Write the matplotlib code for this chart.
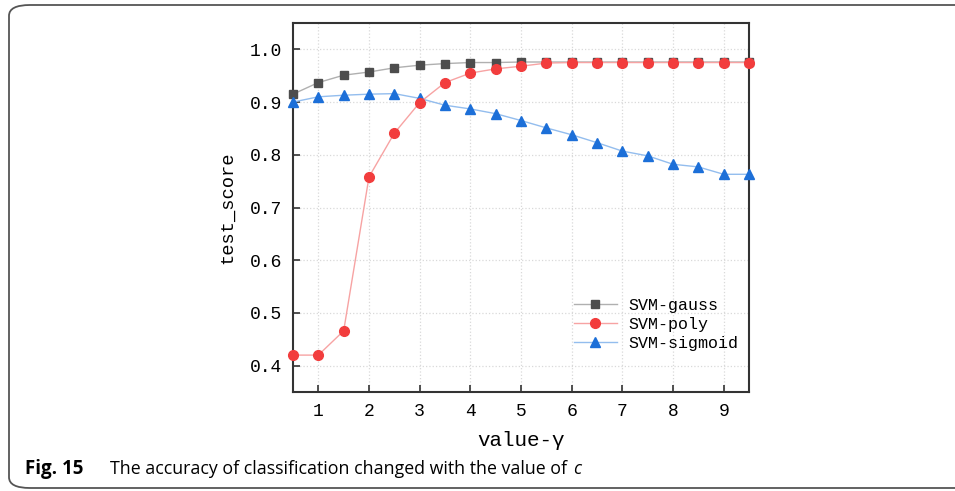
import numpy as np
import matplotlib
matplotlib.use("Agg")
import matplotlib.pyplot as plt
from matplotlib.patches import FancyBboxPatch

# ---- data ----
gamma = [0.5, 1.0, 1.5, 2.0, 2.5, 3.0, 3.5, 4.0, 4.5, 5.0,
         5.5, 6.0, 6.5, 7.0, 7.5, 8.0, 8.5, 9.0, 9.5]
svm_gauss = [0.915, 0.937, 0.951, 0.957, 0.965, 0.970, 0.973, 0.975, 0.975, 0.976,
             0.976, 0.976, 0.976, 0.976, 0.976, 0.976, 0.976, 0.976, 0.976]
svm_poly = [0.420, 0.420, 0.466, 0.758, 0.841, 0.899, 0.937, 0.955, 0.963, 0.968,
            0.974, 0.975, 0.975, 0.975, 0.975, 0.975, 0.975, 0.975, 0.975]
svm_sigmoid = [0.900, 0.910, 0.913, 0.915, 0.916, 0.907, 0.894, 0.887, 0.878, 0.865,
               0.851, 0.838, 0.823, 0.807, 0.798, 0.782, 0.777, 0.763, 0.763]

xticks = [1, 2, 3, 4, 5, 6, 7, 8, 9]
yticks = [0.4, 0.5, 0.6, 0.7, 0.8, 0.9, 1.0]

mono = "Liberation Mono"

fig = plt.figure(figsize=(9.55, 4.91), dpi=100)

# rounded frame around the figure panel (open to the right)
frame = FancyBboxPatch((9 / 955, 3 / 491), 1.2, 483 / 491,
                       boxstyle="round,pad=0,rounding_size=0.022",
                       transform=fig.transFigure, fill=False,
                       edgecolor="#555555", linewidth=1.3, clip_on=False)
fig.patches.append(frame)

ax = fig.add_axes([293 / 955, 1 - 392 / 491, 456 / 955, 369 / 491])

ax.plot(gamma, svm_gauss, color="#b0b0b0", lw=1.0, marker="s", ms=6,
        mfc="#4d4d4d", mec="#4d4d4d", label="SVM-gauss", zorder=3, clip_on=False)
ax.plot(gamma, svm_poly, color="#f7a3a3", lw=1.0, marker="o", ms=7,
        mfc="#f23d3d", mec="#f23d3d", label="SVM-poly", zorder=4, clip_on=False)
ax.plot(gamma, svm_sigmoid, color="#93bdee", lw=1.0, marker="^", ms=7.5,
        mfc="#1c6fd8", mec="#1c6fd8", label="SVM-sigmoid", zorder=3, clip_on=False)

ax.set_xlim(0.5, 9.5)
ax.set_ylim(0.35, 1.05)
ax.set_xticks(xticks)
ax.set_yticks(yticks)
ax.set_xticklabels([str(t) for t in xticks], family=mono, fontsize=13)
ax.set_yticklabels([f"{t:.1f}" for t in yticks], family=mono, fontsize=13)
ax.tick_params(direction="in", length=5, width=1.2, color="#333333", pad=8)

ax.grid(True, color="#d9d9d9", linestyle=":", linewidth=0.9)
ax.set_axisbelow(True)
for s in ax.spines.values():
    s.set_color("#333333")
    s.set_linewidth(1.5)

ax.set_xlabel("value-\u03b3", family=[mono, "DejaVu Serif"], fontsize=15, labelpad=8)
ax.set_ylabel("test_score", family=mono, fontsize=13.5, labelpad=10)

leg = ax.legend(loc="lower right", bbox_to_anchor=(1.01, 0.07), frameon=False,
                prop={"family": mono, "size": 12}, handlelength=2.6,
                labelspacing=0.25, handletextpad=0.7)

# caption
cy = 1 - 474 / 491
fig.text(25 / 955, cy, "Fig. 15", fontweight="bold",
         family="Open Sans", fontsize=13.5, va="baseline")
t = fig.text(110 / 955, cy,
             "The accuracy of classification changed with the value of ",
             family="Open Sans", fontsize=12.8, va="baseline")
fig.canvas.draw()
bb = t.get_window_extent()
fig.text((bb.x1 + 1) / 955, cy, "c", family="Open Sans", style="italic",
         fontsize=12.8, va="baseline")

fig.savefig("out.png", dpi=100)
